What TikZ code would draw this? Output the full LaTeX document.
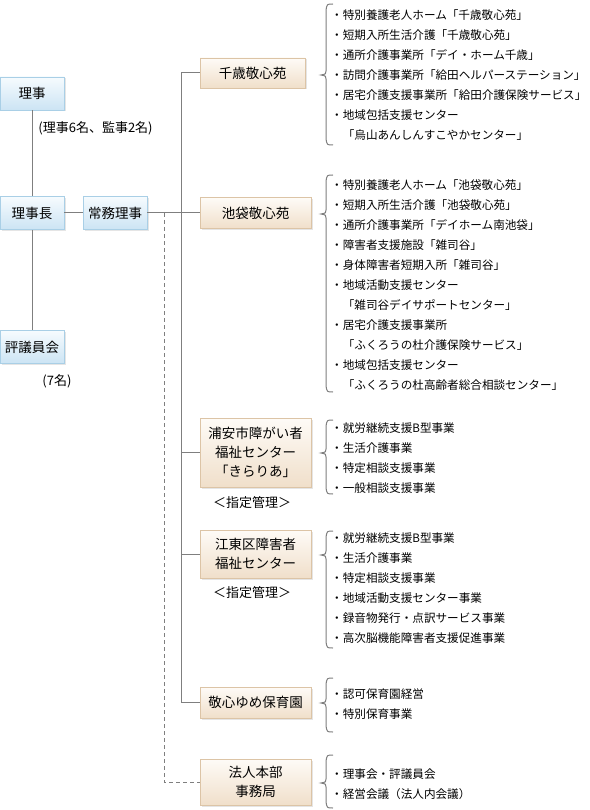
\documentclass[tikz,border=0pt]{standalone}
\usepackage{fontspec}
\setmainfont{Noto Sans CJK JP}
\usetikzlibrary{shadows}
\definecolor{rule}{HTML}{7F7F7F}
\definecolor{skyedge}{HTML}{A9CFE6}
\definecolor{skytop}{HTML}{F6FBFE}
\definecolor{skybot}{HTML}{CCE4F4}
\definecolor{sandedge}{HTML}{DCC4A6}
\definecolor{sandtop}{HTML}{FEFBF7}
\definecolor{sandbot}{HTML}{F0DFCA}
% brace in front of each list: top, tip, bottom
\newcommand{\sidebrace}[3]{%
  \draw[bracket] (333,#1) .. controls (327,#1) .. (326,#1+6) -- (326,#2-4)
    .. controls (326,#2-1) .. (321,#2) .. controls (326,#2+1) .. (326,#2+4)
    -- (326,#3-6) .. controls (327,#3) .. (333,#3);}

\begin{document}
\begin{tikzpicture}[x=1pt,y=-1pt,
  board/.style={draw=skyedge,top color=skytop,bottom color=skybot,line width=0.8pt,
    minimum width=64pt,minimum height=33pt,inner sep=0pt,
    font=\fontsize{13.5}{19}\selectfont,
    drop shadow={shadow xshift=1.5pt,shadow yshift=-1.5pt,fill=black!20}},
  site/.style={draw=sandedge,top color=sandtop,bottom color=sandbot,line width=0.8pt,
    minimum width=111pt,inner sep=0pt,align=center,
    font=\fontsize{13.5}{19}\selectfont,
    drop shadow={shadow xshift=1.5pt,shadow yshift=-1.5pt,fill=black!20}},
  items/.style={anchor=west,align=left,inner sep=0pt,font=\fontsize{11.6}{20}\selectfont},
  note/.style={inner sep=0pt,font=\fontsize{13}{15}\selectfont},
  link/.style={draw=rule,line width=1pt},
  bracket/.style={draw=rule,line width=1pt},
  staff/.style={draw=rule,line width=1pt,dash pattern=on 4pt off 3pt}]
  \path[use as bounding box,fill=white] (0,0) rectangle (589,810);

  % board
  \node[board] (riji)    at (32,93.5) {理事};
  \node[board] (rijicho) at (32,213)  {理事長};
  \node[board] (jomu)    at (115,213) {常務理事};
  \node[board] (hyogi)   at (32,347)  {評議員会};
  \node[note] (rijinote) at (95.5,128) {(理事6名、監事2名)};
  \node[note] (hyoginote) at (57,381) {(7名)};

  % facilities
  \node[site,minimum width=105pt,minimum height=30pt] (chitose) at (252.5,73) {千歳敬心苑};
  \node[site,minimum height=31pt] (ikebukuro) at (255.5,213) {池袋敬心苑};
  \node[site,minimum height=69pt] (urayasu) at (255.5,452.5) {浦安市障がい者\\福祉センター\\「きらりあ」};
  \node[site,minimum height=48pt] (koto) at (255.5,554) {江東区障害者\\福祉センター};
  \node[site,minimum height=31pt] (yume) at (255.5,702.5) {敬心ゆめ保育園};
  \node[site,minimum height=46pt] (honbu) at (255.5,782) {法人本部\\事務局};
  \node[note] (urayasunote) at (252,503) {＜指定管理＞};
  \node[note] (kotonote) at (252,593) {＜指定管理＞};

  % connectors
  \coordinate (trunk) at (181,73);
  \coordinate (dash) at (164,213);
  \draw[link] (riji) -- (rijicho);
  \draw[link] (rijicho) -- (hyogi);
  \draw[link] (rijicho) -- (jomu);
  \draw[link] (jomu) -- (ikebukuro);
  \draw[link] (chitose.west) -- (trunk) |- (yume.west);
  \foreach \b in {urayasu,koto} {\draw[link] (\b.west) -- (\b.west -| trunk);}
  \draw[staff] (dash) |- (honbu.west);

  % lists
  \node[items] (chitoselist) at (331,75) {・特別養護老人ホーム「千歳敬心苑」\\・短期入所生活介護「千歳敬心苑」\\・通所介護事業所「デイ・ホーム千歳」\\・訪問介護事業所「給田ヘルパーステーション」\\・居宅介護支援事業所「給田介護保険サービス」\\・地域包括支援センター\\　「烏山あんしんすこやかセンター」};
  \node[items] (ikebukurolist) at (331,285) {・特別養護老人ホーム「池袋敬心苑」\\・短期入所生活介護「池袋敬心苑」\\・通所介護事業所「デイホーム南池袋」\\・障害者支援施設「雑司谷」\\・身体障害者短期入所「雑司谷」\\・地域活動支援センター\\　「雑司谷デイサポートセンター」\\・居宅介護支援事業所\\　「ふくろうの杜介護保険サービス」\\・地域包括支援センター\\　「ふくろうの杜高齢者総合相談センター」};
  \node[items] (urayasulist) at (331,458) {・就労継続支援B型事業\\・生活介護事業\\・特定相談支援事業\\・一般相談支援事業};
  \node[items] (kotolist) at (331,588) {・就労継続支援B型事業\\・生活介護事業\\・特定相談支援事業\\・地域活動支援センター事業\\・録音物発行・点訳サービス事業\\・高次脳機能障害者支援促進事業};
  \node[items] (yumelist) at (331,704) {・認可保育園経営\\・特別保育事業};
  \node[items] (honbulist) at (331,784) {・理事会・評議員会\\・経営会議（法人内会議）};

  \sidebrace{4}{75}{145}
  \sidebrace{175}{214}{392}
  \sidebrace{420}{453}{494}
  \sidebrace{531}{555}{648}
  \sidebrace{678}{703}{732}
  \sidebrace{755}{783}{808}
\end{tikzpicture}
\end{document}
